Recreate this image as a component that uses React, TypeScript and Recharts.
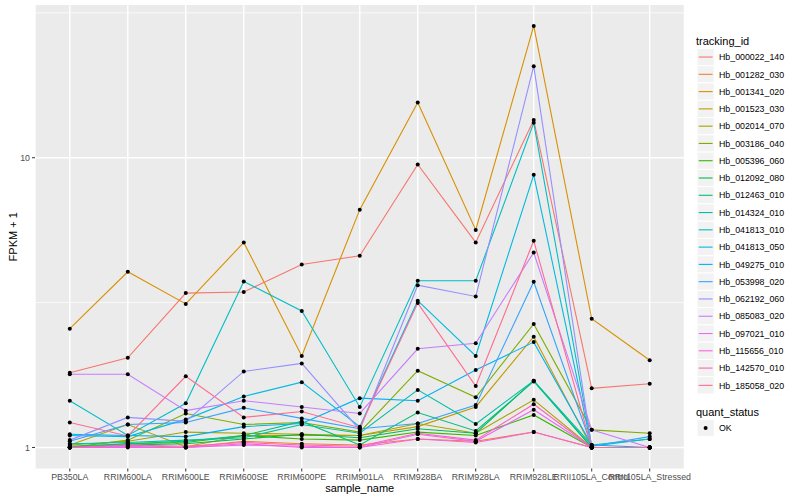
import React from "react";
import { LineChart, Line, XAxis, YAxis, CartesianGrid } from "recharts";

const categories = [
  "PB350LA", "RRIM600LA", "RRIM600LE", "RRIM600SE", "RRIM600PE", "RRIM901LA",
  "RRIM928BA", "RRIM928LA", "RRIM928LE", "RRII105LA_Control", "RRII105LA_Stressed",
];

const trackingIds = [
  "Hb_000022_140", "Hb_001282_030", "Hb_001341_020", "Hb_001523_030", "Hb_002014_070",
  "Hb_003186_040", "Hb_005396_060", "Hb_012092_080", "Hb_012463_010", "Hb_014324_010",
  "Hb_041813_010", "Hb_041813_050", "Hb_049275_010", "Hb_053998_020", "Hb_062192_060",
  "Hb_085083_020", "Hb_097021_010", "Hb_115656_010", "Hb_142570_010", "Hb_185058_020",
];

const seriesColors = [
  "#F8766D", "#EA8331", "#D89000", "#C09B00", "#A3A500", "#7CAE00", "#39B600", "#00BB4E",
  "#00BF7D", "#00C1A3", "#00BFC4", "#00BAE0", "#00B0F6", "#35A2FF", "#9590FF", "#C77CFF",
  "#E76BF3", "#FA62DB", "#FF62BC", "#FF6C91",
];

const s01 = [1.81, 2.04, 3.41, 3.44, 4.28, 4.59, 9.48, 5.1, 13.5, 1.6, 1.66];
const s02 = [1.0, 1.02, 1.0, 1.05, 1.03, 1.02, 1.07, 1.05, 1.13, 1.0, 1.0];
const s03 = [2.57, 4.04, 3.13, 5.1, 2.07, 6.62, 15.5, 5.63, 28.5, 2.78, 2.0];
const s04 = [1.02, 1.2, 1.006, 1.1, 1.1, 1.1, 1.18, 1.38, 2.41, 1.0, 1.0];
const s05 = [1.02, 1.05, 1.13, 1.12, 1.11, 1.1, 1.21, 1.12, 1.46, 1.0, 1.0];
const s06 = [1.0, 1.06, 1.31, 1.2, 1.22, 1.13, 1.84, 1.49, 2.67, 1.15, 1.12];
const s07 = [1.0, 1.03, 1.04, 1.1, 1.07, 1.06, 1.13, 1.1, 1.295, 1.0, 1.0];
const s08 = [1.0, 1.02, 1.03, 1.07, 1.11, 1.08, 1.16, 1.12, 1.7, 1.0, 1.0];
const s09 = [1.01, 1.03, 1.05, 1.1, 1.23, 1.02, 1.32, 1.14, 1.69, 1.0, 1.0];
const s10 = [1.03, 1.04, 1.06, 1.08, 1.2, 1.12, 1.58, 1.205, 1.7, 1.02, 1.07];
const s11 = [1.45, 1.1, 1.42, 3.74, 2.96, 1.38, 3.76, 3.76, 13.2, 1.01, 1.07];
const s12 = [1.1, 1.09, 1.25, 1.5, 1.68, 1.18, 3.21, 2.07, 8.73, 1.0, 1.0];
const s13 = [1.11, 1.1, 1.09, 1.18, 1.21, 1.48, 1.45, 1.85, 2.31, 1.02, 1.0];
const s14 = [1.05, 1.2, 1.22, 1.37, 1.26, 1.16, 1.21, 1.4, 3.73, 1.01, 1.09];
const s15 = [1.06, 1.27, 1.23, 1.83, 1.95, 1.15, 3.63, 3.32, 20.7, 1.0, 1.0];
const s16 = [1.79, 1.79, 1.34, 1.45, 1.38, 1.31, 2.19, 2.29, 4.71, 1.15, 1.0];
const s17 = [1.0, 1.01, 1.0, 1.02, 1.01, 1.0, 1.11, 1.05, 1.35, 1.0, 1.0];
const s18 = [1.0, 1.0, 1.0, 1.03, 1.0, 1.0, 1.07, 1.04, 1.13, 1.0, 1.0];
const s19 = [1.0, 1.02, 1.01, 1.04, 1.02, 1.01, 1.12, 1.06, 1.41, 1.0, 1.0];
const s20 = [1.22, 1.096, 1.76, 1.27, 1.33, 1.17, 3.15, 1.63, 5.17, 1.0, 1.0];

const seriesValues = [s01, s02, s03, s04, s05, s06, s07, s08, s09, s10, s11, s12, s13, s14, s15, s16, s17, s18, s19, s20];

const yTicks = [1, 10];
const yMinor = [3.1623, 31.623];
const quantLabels = ["OK"];

const data = categories.map((c, i) => {
  const row: Record<string, any> = { name: c };
  trackingIds.forEach((id, j) => {
    row[id] = seriesValues[j][i];
  });
  return row;
});

const FONT = "'Liberation Sans', Arial, Helvetica, sans-serif";

export default function App() {
  const keySize = 17.28;
  const legendTop = 48.4;
  return (
    <div style={{ position: "absolute", left: 0, top: 0, width: 800, height: 500, background: "#fff", fontFamily: FONT }}>
      <LineChart width={800} height={500} data={data} margin={{ top: 5, right: 115.5, bottom: 0, left: 0 }}>
        <CartesianGrid fill="#EBEBEB" fillOpacity={1} stroke="#FFFFFF" strokeWidth={1.4} horizontal={true} vertical={true} horizontalValues={yTicks} />
        <CartesianGrid fill="none" stroke="#FFFFFF" strokeWidth={0.7} vertical={false} horizontalValues={yMinor} />
        <XAxis
          dataKey="name"
          type="category"
          interval={0}
          height={31.5}
          padding={{ left: 34.8, right: 34.8 }}
          axisLine={false}
          tickSize={3}
          tickLine={{ stroke: "#333333" }}
          tick={{ fill: "#4D4D4D", fontSize: 8.8, fontFamily: FONT }}
        />
        <YAxis
          scale="log"
          type="number"
          domain={[0.846, 33.66]}
          allowDataOverflow
          ticks={yTicks}
          width={35}
          axisLine={false}
          tickSize={3}
          tickLine={{ stroke: "#333333" }}
          tick={{ fill: "#4D4D4D", fontSize: 8.8, fontFamily: FONT }}
        />
        {trackingIds.map((id, j) => (
          <Line
            key={"l" + id}
            dataKey={id}
            type="linear"
            stroke={seriesColors[j]}
            strokeWidth={1.1}
            dot={false}
            activeDot={false}
            isAnimationActive={false}
          />
        ))}
        {trackingIds.map((id) => (
          <Line
            key={"p" + id}
            dataKey={id}
            type="linear"
            stroke="none"
            dot={{ r: 2, fill: "#000000", stroke: "none" }}
            activeDot={false}
            legendType="none"
            isAnimationActive={false}
          />
        ))}
      </LineChart>
      <svg width={800} height={500} style={{ position: "absolute", left: 0, top: 0, pointerEvents: "none" }}>
        <text x={359.7} y={492} textAnchor="middle" fontSize={11} fill="#000" fontFamily={FONT}>sample_name</text>
        <text x={17} y={236.8} textAnchor="middle" fontSize={11} fill="#000" fontFamily={FONT} transform="rotate(-90 17 236.8)">FPKM + 1</text>
        <text x={696} y={44.5} fontSize={11} fill="#000" fontFamily={FONT}>tracking_id</text>
        {trackingIds.map((id, j) => {
          const y0 = legendTop + keySize * j;
          const cy = y0 + keySize / 2;
          return (
            <g key={"lg" + id}>
              <rect x={697} y={y0} width={keySize} height={keySize} fill="#F2F2F2" stroke="#FFFFFF" strokeWidth={1} />
              <line x1={698.7} x2={712.6} y1={cy} y2={cy} stroke={seriesColors[j]} strokeWidth={1.1} />
              <text x={719} y={cy + 3.2} fontSize={8.8} fill="#000" fontFamily={FONT}>{id}</text>
            </g>
          );
        })}
        <text x={696} y={416} fontSize={11} fill="#000" fontFamily={FONT}>quant_status</text>
        {quantLabels.map((q, k) => {
          const y0 = 419.4 + keySize * k;
          const cy = y0 + keySize / 2;
          return (
            <g key={"q" + q}>
              <rect x={697} y={y0} width={keySize} height={keySize} fill="#F2F2F2" stroke="#FFFFFF" strokeWidth={1} />
              <circle cx={705.6} cy={cy} r={2} fill="#000" />
              <text x={719} y={cy + 3.2} fontSize={8.8} fill="#000" fontFamily={FONT}>{q}</text>
            </g>
          );
        })}
      </svg>
    </div>
  );
}
